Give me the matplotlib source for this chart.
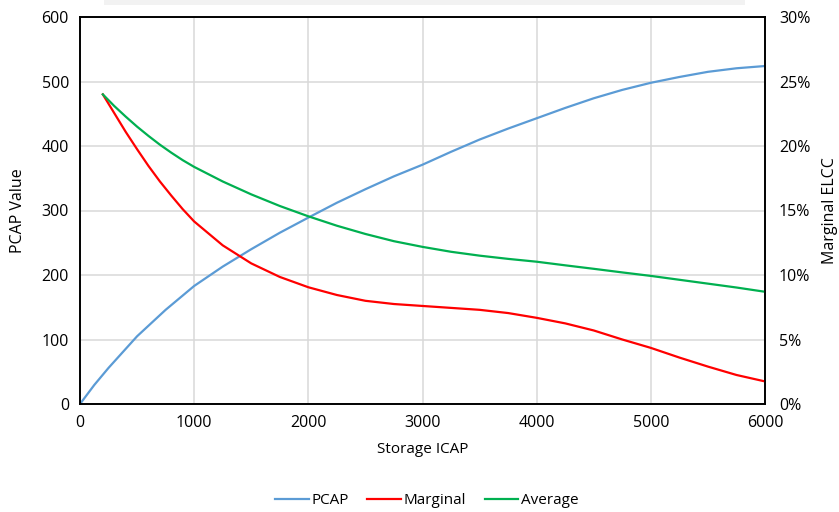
import matplotlib
matplotlib.use("Agg")
import matplotlib.pyplot as plt
from matplotlib.patches import Rectangle
from matplotlib.ticker import FuncFormatter

plt.rcParams['font.family'] = ['Open Sans', 'DejaVu Sans']

# PCAP value (left axis)
pcap_x = [0, 125, 250, 500, 750, 1000, 1250, 1500, 1750, 2000, 2250, 2500, 2750, 3000,
          3250, 3500, 3750, 4000, 4250, 4500, 4750, 5000, 5250, 5500, 5750, 6000]
pcap_y = [0, 29.5, 56, 105, 146, 183, 213, 240, 265.5, 289, 312, 333, 353, 371,
          391, 410, 427, 443, 459, 474, 487, 498, 507, 515, 520.5, 524]

# ELCC x positions (right axis series)
elcc_x = [200, 300, 400, 500, 600, 700, 800, 900, 1000, 1250, 1500, 1750, 2000, 2250,
          2500, 2750, 3000, 3250, 3500, 3750, 4000, 4250, 4500, 4750, 5000, 5250,
          5500, 5750, 6000]
# Marginal ELCC (%)
marginal = [24.0, 22.55, 21.1, 19.75, 18.45, 17.25, 16.15, 15.1, 14.15, 12.3, 10.9, 9.85,
            9.05, 8.45, 8.0, 7.75, 7.6, 7.45, 7.3, 7.05, 6.68, 6.25, 5.7, 5.0, 4.35,
            3.6, 2.9, 2.25, 1.75]
# Average ELCC (%)
average = [24.0, 23.1, 22.28, 21.5, 20.78, 20.1, 19.48, 18.9, 18.38, 17.25, 16.25, 15.35,
           14.55, 13.82, 13.18, 12.62, 12.18, 11.8, 11.5, 11.25, 11.03, 10.75, 10.48, 10.2,
           9.93, 9.63, 9.33, 9.03, 8.7]

x_ticks = [0, 1000, 2000, 3000, 4000, 5000, 6000]
left_ticks = [0, 100, 200, 300, 400, 500, 600]
right_ticks = [0, 5, 10, 15, 20, 25, 30]

W, H = 839, 512
fig = plt.figure(figsize=(W / 100, H / 100), dpi=100)
fig.patches.append(Rectangle((104 / W, 1 - 5 / H), (745 - 104) / W, 5 / H,
                             transform=fig.transFigure, facecolor='#f2f2f2',
                             edgecolor='none', zorder=0))

ax = fig.add_axes([80 / W, 1 - 404 / H, (765 - 80) / W, (404 - 17) / H])
ax2 = ax.twinx()

grid_c = '#d9d9d9'
ax.set_xlim(0, 6000)
ax.set_ylim(0, 600)
ax2.set_ylim(0, 30)
ax.set_xticks(x_ticks)
ax.set_yticks(left_ticks)
ax2.set_yticks(right_ticks)
ax2.yaxis.set_major_formatter(FuncFormatter(lambda v, p: f"{int(v)}%"))
ax.grid(True, color=grid_c, linewidth=1.1)
ax.set_axisbelow(True)

for a in (ax, ax2):
    a.tick_params(length=0, labelsize=11.5, colors='#000000')
    for s in a.spines.values():
        s.set_color('#000000')
        s.set_linewidth(1.2)
ax.tick_params(axis='y', pad=8)
ax.tick_params(axis='x', pad=8)
ax2.tick_params(axis='y', pad=10)

l1, = ax.plot(pcap_x, pcap_y, color='#5B9BD5', lw=1.6, label='PCAP')
l2, = ax2.plot(elcc_x, marginal, color='#FF0000', lw=1.6, label='Marginal')
l3, = ax2.plot(elcc_x, average, color='#00B050', lw=1.6, label='Average')

ax.set_xlabel('Storage ICAP', fontsize=11, labelpad=8)
ax.set_ylabel('PCAP Value', fontsize=11.5)
ax2.set_ylabel('Marginal ELCC', fontsize=11.5)
ax.yaxis.set_label_coords((26 - 80) / 685, 0.5)
ax2.yaxis.set_label_coords(1 + (822 - 765) / 685, 0.5)

fig.legend(handles=[l1, l2, l3], loc='center', bbox_to_anchor=(427 / W, 1 - 501 / H),
           ncol=3, frameon=False, fontsize=11, handlelength=2.2, handletextpad=0.2,
           columnspacing=1.2)

fig.savefig('out.png', dpi=100)
